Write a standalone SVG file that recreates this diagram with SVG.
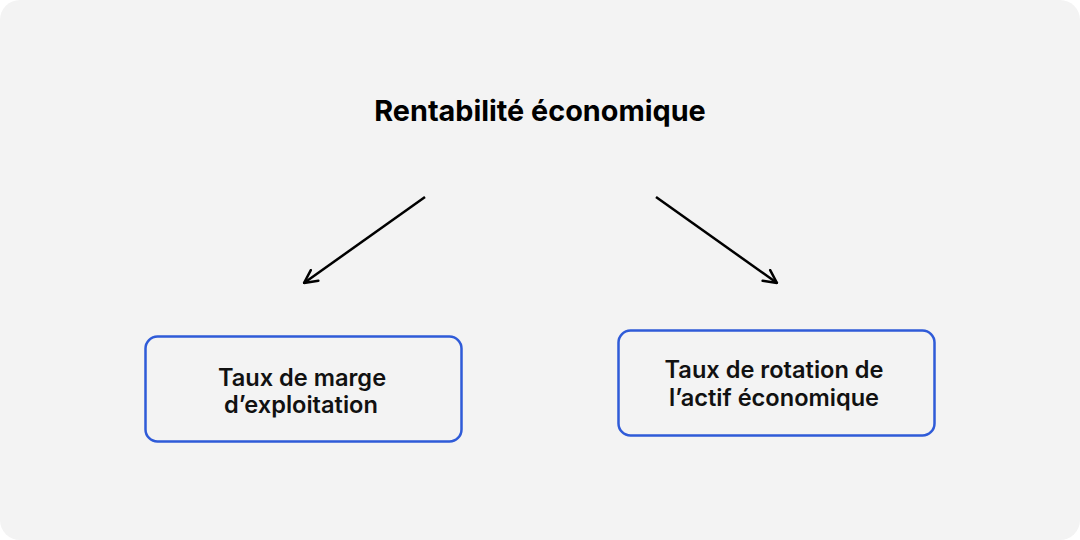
<svg xmlns="http://www.w3.org/2000/svg" width="1080" height="540" viewBox="0 0 1080 540">
<style>
.title{font-family:Inter,"Noto Sans",sans-serif;font-weight:700;font-size:28.8px;fill:#000;text-anchor:middle}
.lbl{font-family:Inter,"Noto Sans",sans-serif;font-weight:600;font-size:23.6px;fill:#111;text-anchor:middle}
.box{fill:#f3f3f3;stroke:#2f5bd8;stroke-width:2.5}
.conn{stroke:#000;stroke-width:2.5;fill:none}
</style>
<defs>
<marker id="arr" viewBox="0 0 16 16" refX="15" refY="8" markerWidth="16" markerHeight="16" markerUnits="userSpaceOnUse" orient="auto">
<path d="M2,1.5 L15,8 L2,14.5" fill="none" stroke="#000" stroke-width="2.5" stroke-linecap="round" stroke-linejoin="round"/>
</marker>
</defs>
<rect x="0" y="0" width="1080" height="540" fill="#ffffff"/>
<rect x="0" y="0" width="1080" height="540" rx="20" fill="#f3f3f3"/>
<g id="title">
<text class="title" x="540" y="121">Rentabilité économique</text>
</g>
<g id="connectors">
<line class="conn" x1="425" y1="197" x2="304" y2="283" marker-end="url(#arr)"/>
<line class="conn" x1="656" y1="197" x2="777" y2="283" marker-end="url(#arr)"/>
</g>
<g id="node-marge">
<rect class="box" x="145.5" y="336.5" width="316" height="105" rx="12"/>
<text class="lbl" x="302" y="386">Taux de marge</text>
<text class="lbl" x="301" y="413">d’exploitation</text>
</g>
<g id="node-rotation">
<rect class="box" x="618.5" y="330.5" width="316" height="105" rx="12"/>
<text class="lbl" x="774" y="378">Taux de rotation de</text>
<text class="lbl" x="774" y="406">l’actif économique</text>
</g>
</svg>
